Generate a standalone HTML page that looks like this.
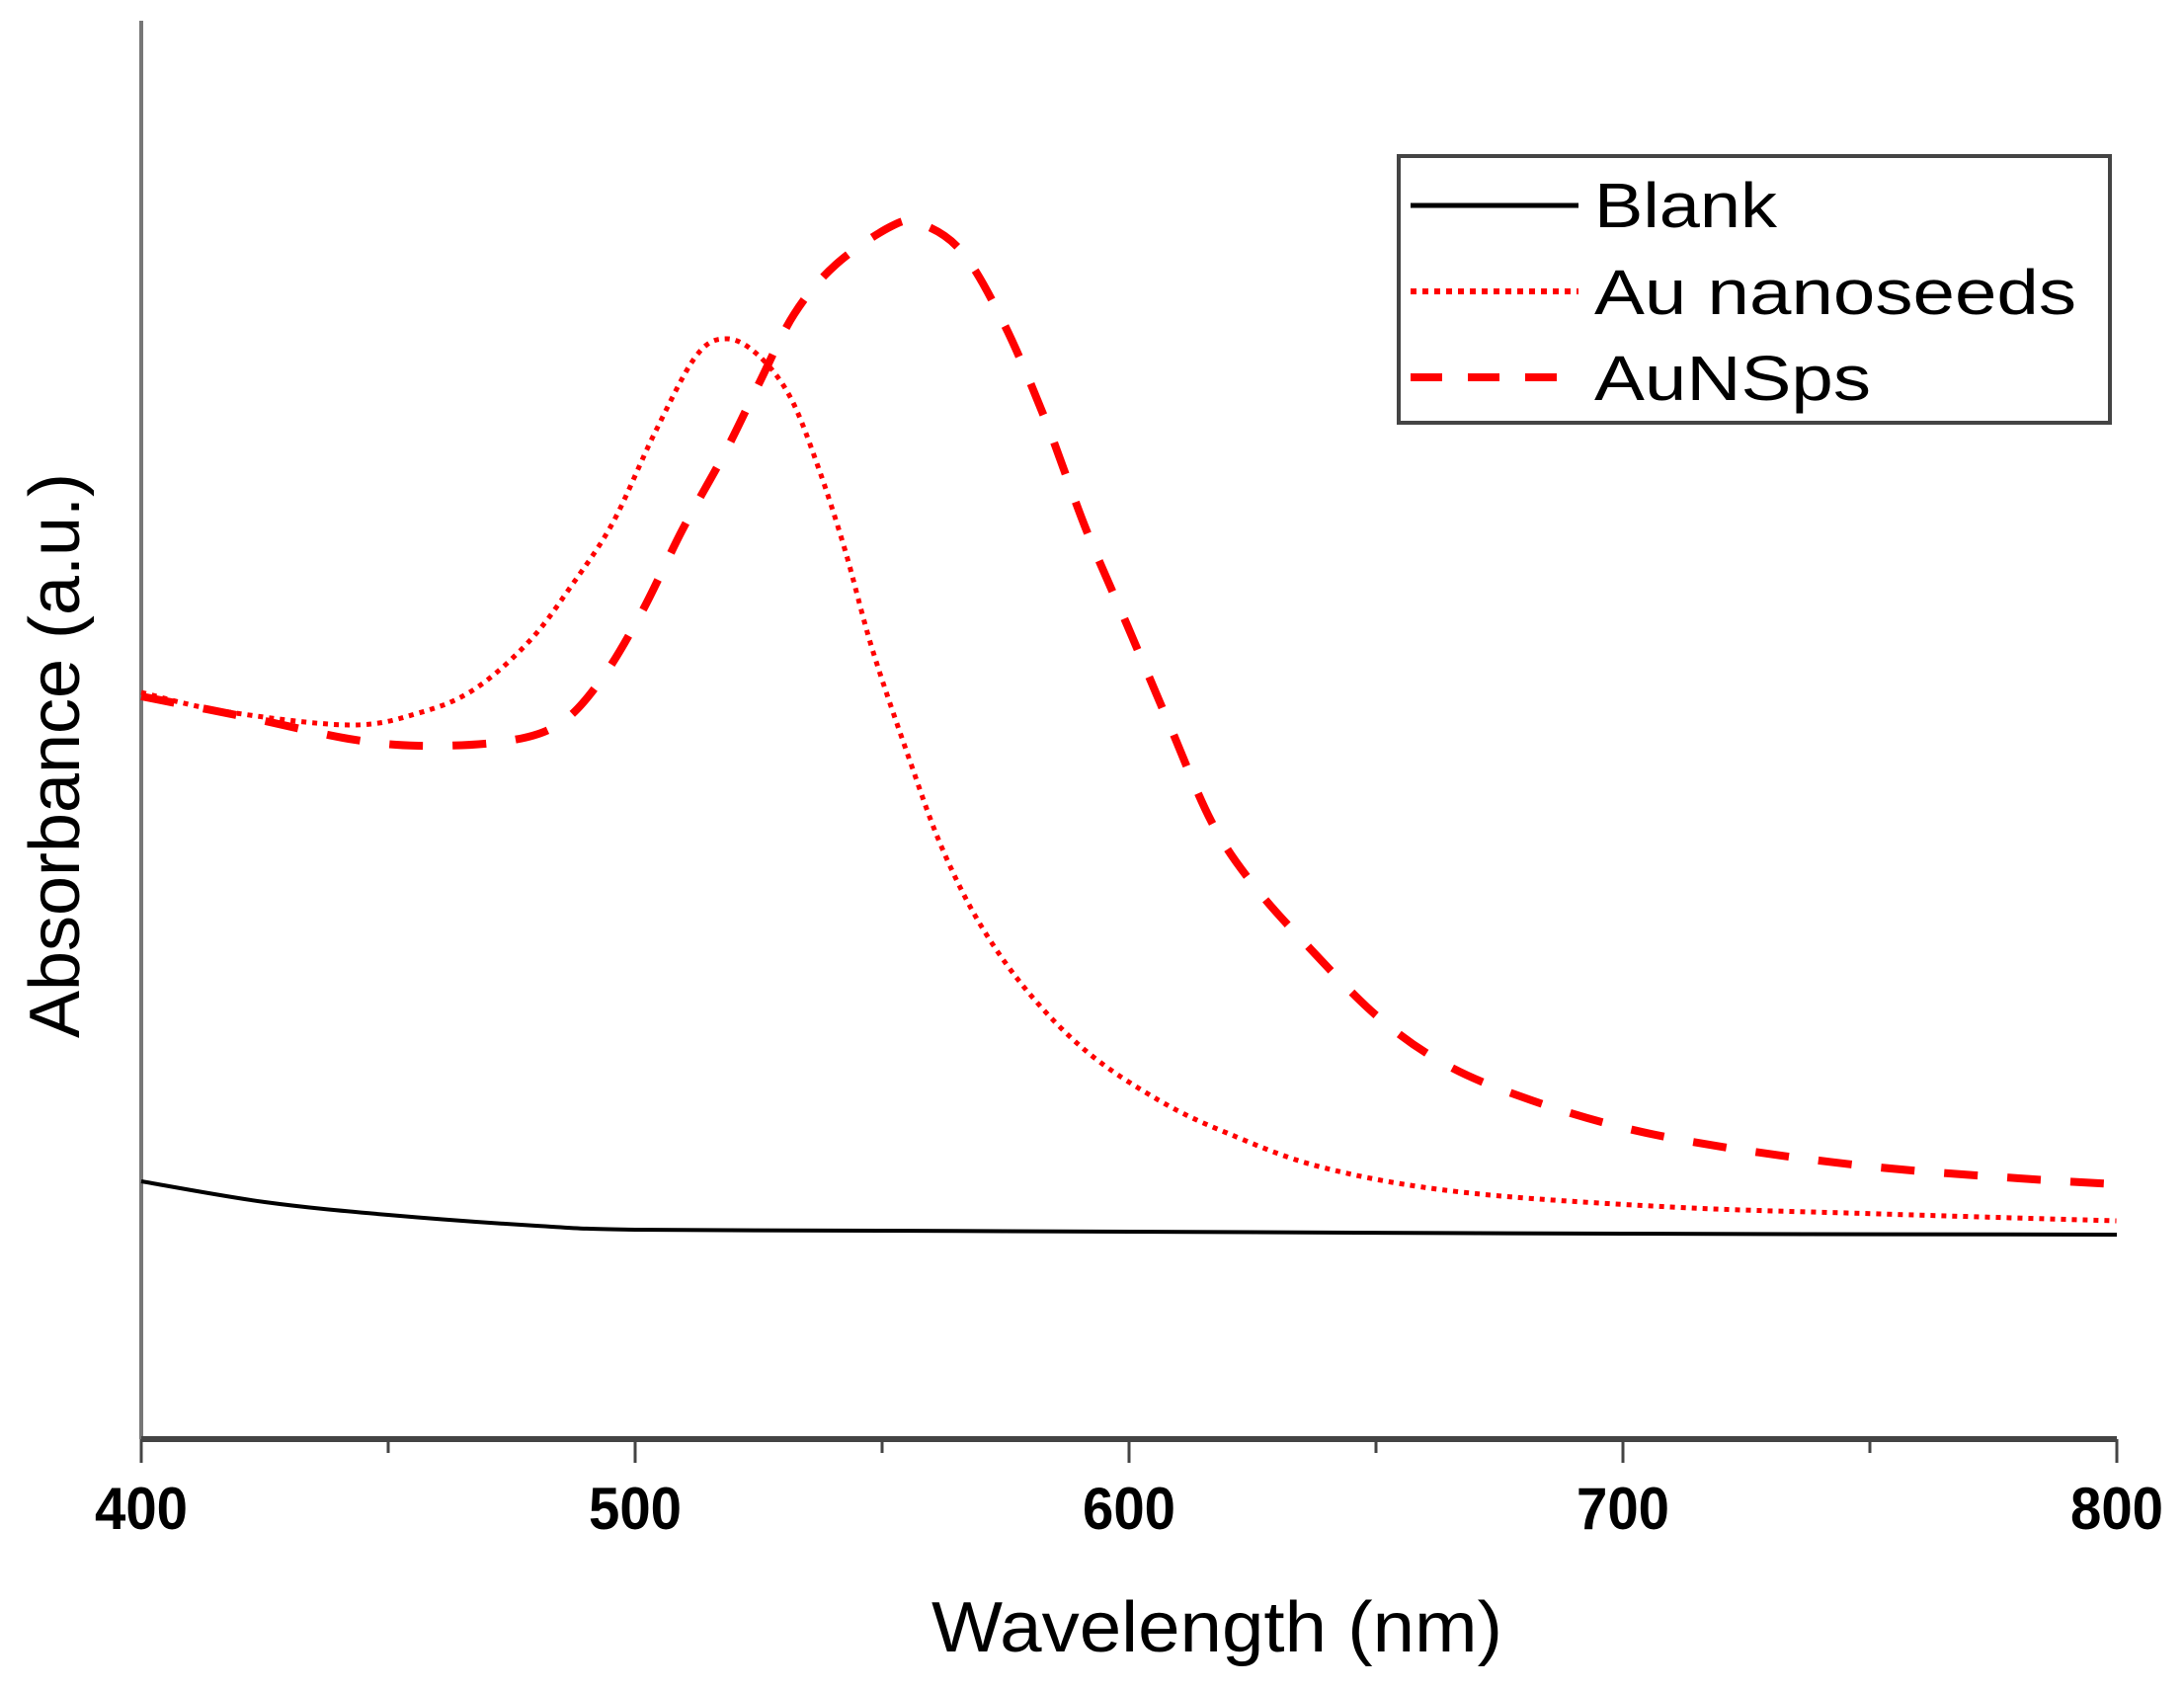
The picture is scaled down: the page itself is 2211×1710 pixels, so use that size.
<!DOCTYPE html>
<html><head><meta charset="utf-8"><style>
html,body{margin:0;padding:0;background:#fff;}
svg{display:block;font-family:"Liberation Sans",sans-serif;}
</style></head><body>
<svg id="chart" width="2211" height="1710" viewBox="0 0 2211 1710" xmlns="http://www.w3.org/2000/svg">
<g id="axes"></g>
<g id="series"></g>
<g id="legend">
  <rect x="1416" y="158" width="720" height="270" fill="#fff" stroke="#444" stroke-width="4"/>
  <line x1="1428" y1="208" x2="1598" y2="208" stroke="#000" stroke-width="5"/>
  <text x="1614" y="230" font-size="64" textLength="185" lengthAdjust="spacingAndGlyphs">Blank</text>
  <line x1="1428" y1="295" x2="1598" y2="295" stroke="#f00" stroke-width="6" stroke-dasharray="6,6"/>
  <text x="1614" y="318" font-size="64" textLength="488" lengthAdjust="spacingAndGlyphs">Au nanoseeds</text>
  <line x1="1428" y1="382" x2="1586" y2="382" stroke="#f00" stroke-width="8" stroke-dasharray="32,26"/>
  <text x="1614" y="405" font-size="64" textLength="280" lengthAdjust="spacingAndGlyphs">AuNSps</text>
</g>
</svg>
<script>
const xTicks = [400, 500, 600, 700, 800];
const blankX = [400, 425, 450, 480, 500, 550, 600, 700, 800];
const blankY = [0.261, 0.240, 0.227, 0.216, 0.212, 0.211, 0.210, 0.208, 0.207];
const seedsX = [400, 416.6, 442, 456.1, 467.4, 478.6, 487.1, 495.5, 504, 512.4, 518.6, 525, 531.4, 537, 542.5, 548, 555.4, 562, 570, 580, 592, 606.4, 619.8, 639.2, 667.4, 709.7, 752, 799.9];
const seedsY = [0.756, 0.737, 0.723, 0.735, 0.759, 0.808, 0.864, 0.928, 1.019, 1.097, 1.114, 1.097, 1.055, 0.985, 0.900, 0.800, 0.690, 0.600, 0.520, 0.450, 0.390, 0.342, 0.310, 0.275, 0.250, 0.235, 0.228, 0.221];
const nspsX = [400, 422.3, 442, 456.1, 473, 484.3, 492.7, 501.2, 509.6, 518.1, 525.1, 532.2, 540.6, 551.9, 557.5, 566, 574.4, 582.9, 591.3, 599.8, 608.2, 616.7, 625.2, 636.4, 650.5, 664.6, 681.5, 701.2, 723.8, 752, 780.2, 799.9];
const nspsY = [0.752, 0.730, 0.709, 0.702, 0.706, 0.723, 0.766, 0.836, 0.921, 0.998, 1.069, 1.139, 1.189, 1.228, 1.231, 1.203, 1.132, 1.034, 0.921, 0.822, 0.723, 0.625, 0.561, 0.498, 0.427, 0.378, 0.343, 0.314, 0.293, 0.275, 0.264, 0.258];

const NS = "http://www.w3.org/2000/svg";
const X0 = 143, X1 = 2143, Y0 = 1457, YTOP = 21;
function xs(v){ return X0 + (v - 400) / 400 * (X1 - X0); }
function ys(v){ return Y0 - v / 1.436 * (Y0 - YTOP); }
function mk(tag, attrs, parent){ const e = document.createElementNS(NS, tag); for (const k in attrs) e.setAttribute(k, attrs[k]); parent.appendChild(e); return e; }

const axes = document.getElementById('axes');
const yAxis = mk('line', {x1:X0, y1:YTOP, x2:X0, y2:Y0, stroke:'#777', 'stroke-width':4}, axes);


const xAxis = mk('line', {x1:X0, y1:Y0, x2:X1, y2:Y0, stroke:'#444', 'stroke-width':6}, axes);


for (let t = 400; t <= 800; t += 50) {
  const major = t % 100 === 0;
  const tk = mk('line', {x1:xs(t), y1:Y0, x2:xs(t), y2:Y0 + (major ? 24 : 14), stroke:'#444', 'stroke-width':3}, axes);
  
  
}
xTicks.forEach(t => {
  const lb = mk('text', {x:xs(t), y:1548, 'font-size':60, 'font-weight':'bold', 'text-anchor':'middle', textLength:94, lengthAdjust:'spacingAndGlyphs'}, axes);
  lb.textContent = t;
  
  
});
const xt = mk('text', {x:1232, y:1672, 'font-size':72, 'text-anchor':'middle', textLength:578, lengthAdjust:'spacingAndGlyphs'}, axes);
xt.textContent = 'Wavelength (nm)';


const yt = mk('text', {x:0, y:0, 'font-size':72, 'text-anchor':'middle', textLength:572, lengthAdjust:'spacingAndGlyphs', transform:'translate(80,765) rotate(-90)'}, axes);
yt.textContent = 'Absorbance (a.u.)';



function pathD(xa, ya){
  const p = xa.map((x, i) => [xs(x), ys(ya[i])]);
  let d = 'M' + p[0][0] + ',' + p[0][1];
  for (let i = 0; i < p.length - 1; i++) {
    const p0 = p[Math.max(0, i - 1)], p1 = p[i], p2 = p[i + 1], p3 = p[Math.min(p.length - 1, i + 2)];
    const c1x = p1[0] + (p2[0] - p0[0]) / 6, c1y = p1[1] + (p2[1] - p0[1]) / 6;
    const c2x = p2[0] - (p3[0] - p1[0]) / 6, c2y = p2[1] - (p3[1] - p1[1]) / 6;
    d += ' C' + c1x + ',' + c1y + ' ' + c2x + ',' + c2y + ' ' + p2[0] + ',' + p2[1];
  }
  return d;
}
const series = document.getElementById('series');
const s1 = mk('path', {d:pathD(blankX, blankY), fill:'none', stroke:'#000', 'stroke-width':4}, series);


const s2 = mk('path', {d:pathD(seedsX, seedsY), fill:'none', stroke:'#f00', 'stroke-width':5, 'stroke-dasharray':'5,6'}, series);


const s3 = mk('path', {d:pathD(nspsX, nspsY), fill:'none', stroke:'#f00', 'stroke-width':8, 'stroke-dasharray':'34,30'}, series);


</script>
</body></html>
